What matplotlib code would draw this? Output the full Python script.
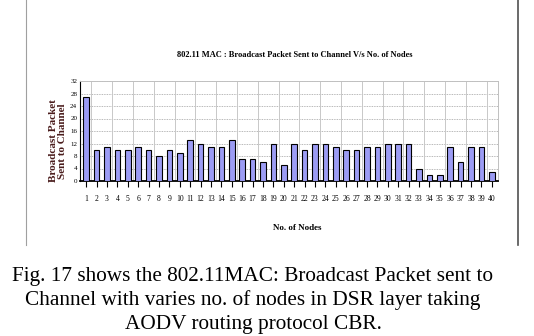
import matplotlib.pyplot as plt
import numpy as np

# nodes and broadcast packets sent to channel
nodes = list(range(1, 41))
packets = [27, 10, 11, 10, 10, 11, 10, 8, 10, 9,
           13, 12, 11, 11, 13, 7, 7, 6, 12, 5,
           12, 10, 12, 12, 11, 10, 10, 11, 11, 12,
           12, 12, 4, 2, 2, 11, 6, 11, 11, 3]
yticks = list(range(0, 33, 4))

title = "802.11 MAC : Broadcast Packet Sent to Channel V/s No. of Nodes"
caption_lines = ["Fig. 17 shows the 802.11MAC: Broadcast Packet sent to",
                 "Channel with varies no. of nodes in DSR layer taking",
                 "AODV routing protocol CBR."]

W, H = 534, 336
fig = plt.figure(figsize=(W / 100, H / 100), dpi=100)
# plot area in pixels: x 80..498, y 81..181
ax = fig.add_axes([80 / W, 1 - 181 / H, (498 - 80) / W, (181 - 81) / H])

x = np.arange(len(nodes))
ax.bar(x, packets, width=0.55, color='#9c9cf4', edgecolor='black', linewidth=0.8, zorder=3)
ax.set_xlim(-0.6, len(nodes) - 0.4)
ax.set_ylim(0, 32)
ax.set_yticks(yticks)
ax.set_yticklabels([str(v) for v in yticks], fontsize=5, family='Liberation Serif')
ax.set_xticks(x)
ax.set_xticklabels([str(n) for n in nodes], fontsize=5.5, family='Liberation Serif')
ax.tick_params(axis='x', length=4, width=0.8, pad=6)
ax.tick_params(axis='y', length=0, pad=2)

# grid: dotted horizontals, light verticals every two bars
for v in yticks[1:]:
    ax.axhline(v, color='#a0a0a0', lw=0.6, ls=(0, (1, 1)), zorder=1)
for g in np.arange(0.5, len(nodes), 2):
    ax.axvline(g, color='#c8c8c8', lw=0.7, zorder=1)

for s in ['top', 'right']:
    ax.spines[s].set_color('#c0c0c0')
    ax.spines[s].set_linewidth(0.7)
ax.spines['left'].set_linewidth(0.8)
ax.spines['bottom'].set_linewidth(1.3)

fig.text(295 / W, 1 - 55 / H, title, ha='center', va='center', fontsize=6,
         family='Liberation Serif', fontweight='bold')
fig.text(58 / W, 1 - 141 / H, "Broadcast Packet\nSent to Channel", rotation=90,
         ha='center', va='center', fontsize=8, family='Liberation Serif',
         fontweight='bold', color='#4a1c1c', linespacing=1.0)
fig.text(297 / W, 1 - 228 / H, "No. of Nodes", ha='center', va='center',
         fontsize=6.5, family='Liberation Serif', fontweight='bold')

# chart frame side lines
fig.add_artist(plt.Line2D([26 / W, 26 / W], [1 - 245 / H, 1], color='#a0a0a0', lw=0.8))
fig.add_artist(plt.Line2D([518 / W, 518 / W], [1 - 245 / H, 1], color='#505050', lw=1.2))

for i, line in enumerate(caption_lines):
    fig.text(253 / W, 1 - (276 + 24.5 * i) / H, line, ha='center', va='center',
             fontsize=15.3, family='Liberation Serif')

fig.savefig('out.png', dpi=100)
